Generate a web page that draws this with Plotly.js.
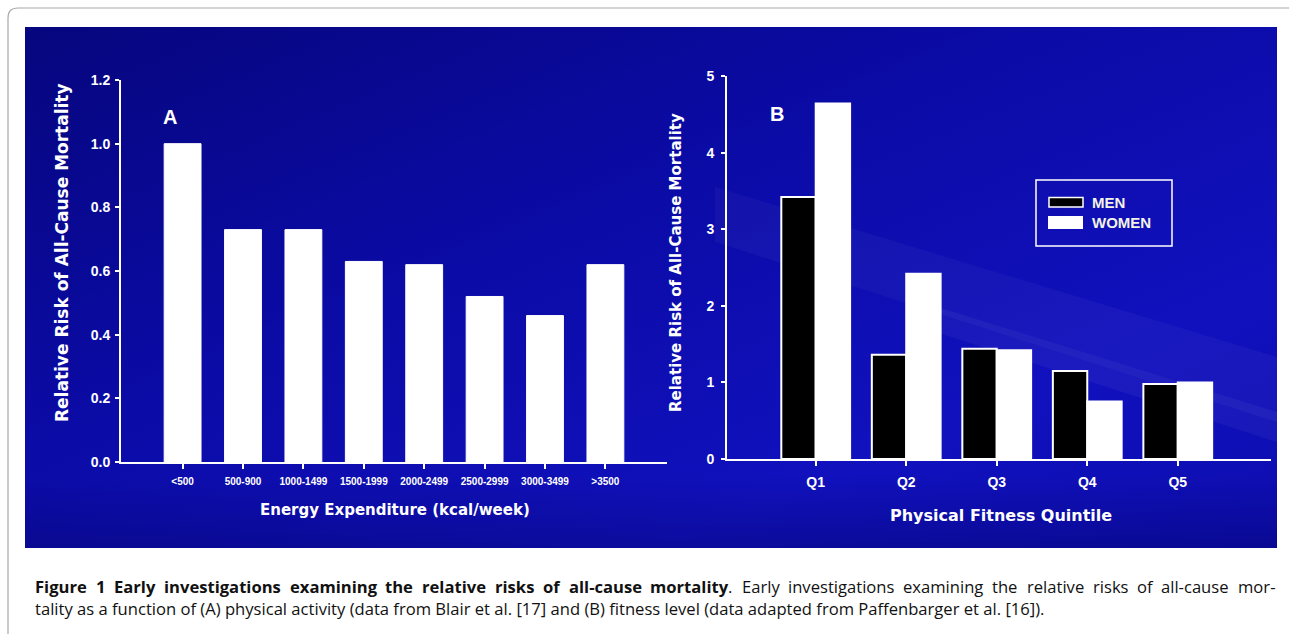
<!DOCTYPE html>
<html>
<head>
<meta charset="utf-8">
<script src="https://cdn.plot.ly/plotly-3.0.1.min.js"></script>
<style>html,body{margin:0;padding:0;background:#fff;}#chart{width:1289px;height:634px;}</style>
</head>
<body>
<div id="chart"></div>
<script>
// Panel A data
const energyCategories = ["<500", "500-900", "1000-1499", "1500-1999", "2000-2499", "2500-2999", "3000-3499", ">3500"];
const energyRisk = [1.0, 0.73, 0.73, 0.63, 0.62, 0.52, 0.46, 0.62];
// Panel B data
const quintiles = ["Q1", "Q2", "Q3", "Q4", "Q5"];
const menRisk = [3.42, 1.36, 1.44, 1.15, 0.98];
const womenRisk = [4.64, 2.42, 1.42, 0.75, 1.0];
const yTicksA = [0, 0.2, 0.4, 0.6, 0.8, 1.0, 1.2];
const yTicksB = [0, 1, 2, 3, 4, 5];
// Caption
const captionBold = "Figure 1 Early investigations examining the relative risks of all-cause mortality";
const captionRest1 = ". Early investigations examining the relative risks of all-cause mor-";
const captionLine2 = "tality as a function of (A) physical activity (data from Blair et al. [17] and (B) fitness level (data adapted from Paffenbarger et al. [16]).";

const W = 1289, H = 634;
const px = v => v / W, py = v => 1 - v / H;

const bgSvg = "<svg xmlns='http://www.w3.org/2000/svg' width='1252' height='521' viewBox='0 0 1252 521' preserveAspectRatio='none'>" +
  "<defs><linearGradient id='g' x1='0' y1='0' x2='1' y2='1'>" +
  "<stop offset='0' stop-color='#06067e'/><stop offset='0.4' stop-color='#0b0ba6'/><stop offset='0.75' stop-color='#1111be'/><stop offset='1' stop-color='#0d0db0'/></linearGradient>" +
  "<linearGradient id='b' x1='0' y1='0' x2='0' y2='1'><stop offset='0.86' stop-color='#000050' stop-opacity='0'/><stop offset='1' stop-color='#000050' stop-opacity='0.3'/></linearGradient></defs>" +
  "<rect width='1252' height='521' fill='url(#g)'/>" +
  "<polygon points='690,160 1252,330 1252,395 690,215' fill='#ffffff' fill-opacity='0.035'/>" +
  "<polygon points='880,270 1252,385 1252,415 880,295' fill='#ffffff' fill-opacity='0.045'/>" +
  "<rect width='1252' height='521' fill='url(#b)'/>" +
  "</svg>";
const bgSrc = "data:image/svg+xml;charset=utf-8," + encodeURIComponent(bgSvg);

const boldFont = "Liberation Sans, Arial, sans-serif";
const wideFont = "DejaVu Sans, sans-serif";
const capFont = "Open Sans";
const white = "#ffffff";

const traces = [
  {
    type: "bar", name: "Energy expenditure", x: energyCategories, y: energyRisk,
    xaxis: "x", yaxis: "y",
    marker: {color: "#ffffff", line: {color: "#ffffff", width: 1}},
    width: 0.61, showlegend: false, hoverinfo: "x+y"
  },
  {
    type: "bar", name: "MEN", x: quintiles, y: menRisk,
    xaxis: "x2", yaxis: "y2", offsetgroup: "m",
    marker: {color: "#000000", line: {color: "#ffffff", width: 2}},
    showlegend: false
  },
  {
    type: "bar", name: "WOMEN", x: quintiles, y: womenRisk,
    xaxis: "x2", yaxis: "y2", offsetgroup: "w",
    marker: {color: "#ffffff", line: {color: "#ffffff", width: 2}},
    showlegend: false
  }
];

const axisCommon = {
  showline: true, linecolor: white, linewidth: 2,
  ticks: "outside", tickcolor: white, tickwidth: 2, ticklen: 5,
  showgrid: false, zeroline: false, fixedrange: true
};

function ann(text, x, y, font, extra) {
  return Object.assign({text: text, xref: "paper", yref: "paper", x: px(x), y: py(y),
    xanchor: "center", yanchor: "middle", showarrow: false, font: font,
    borderpad: 0, borderwidth: 0}, extra || {});
}

// ---- caption layout (justified first line, measured with canvas) ----
const ctx = document.createElement("canvas").getContext("2d");
function measure(text, size, bold) {
  ctx.font = (bold ? "bold " : "") + size + "px '" + capFont + "'";
  return ctx.measureText(text).width;
}
const capLeft = 35, capRight = 1275, line2Right = 1044;
const capSize = Math.round(16 * (line2Right - capLeft) / measure(captionLine2, 16, false) * 10) / 10;
const capAnns = [];
(function () {
  const boldWords = captionBold.split(" ");
  const restWords = captionRest1.slice(2).split(" ");
  const tokens = [];
  boldWords.forEach((w, i) => {
    if (i === boldWords.length - 1) {
      tokens.push({text: "<b>" + w + "</b>.", w: measure(w, capSize, true) + measure(".", capSize, false)});
    } else {
      tokens.push({text: "<b>" + w + "</b>", w: measure(w, capSize, true)});
    }
  });
  restWords.forEach(w => tokens.push({text: w, w: measure(w, capSize, false)}));
  const total = tokens.reduce((s, t) => s + t.w, 0);
  const gap = (capRight - capLeft - total) / (tokens.length - 1);
  let x = capLeft;
  tokens.forEach(t => {
    capAnns.push(ann(t.text, x, 586, {family: capFont, size: capSize, color: "#111111"}, {xanchor: "left"}));
    x += t.w + gap;
  });
  capAnns.push(ann(captionLine2, capLeft, 608, {family: capFont, size: capSize, color: "#111111"}, {xanchor: "left"}));
})();

const layout = {
  width: W, height: H,
  margin: {l: 0, r: 0, t: 0, b: 0},
  paper_bgcolor: "#ffffff", plot_bgcolor: "rgba(0,0,0,0)",
  barmode: "group", bargap: 0.24, bargroupgap: 0.0,
  showlegend: false,
  images: [{
    source: bgSrc, xref: "paper", yref: "paper",
    x: px(25), y: py(27), sizex: 1252 / W, sizey: 521 / H,
    sizing: "stretch", xanchor: "left", yanchor: "top", layer: "below"
  }],
  xaxis: Object.assign({}, axisCommon, {
    domain: [px(121), px(667)], anchor: "y", type: "category",
    range: [-1.02, 8.02],
    tickfont: {family: boldFont, size: 10, color: white, weight: "bold"},
    ticklabelstandoff: 4
  }),
  yaxis: Object.assign({}, axisCommon, {
    domain: [py(462), py(80)], anchor: "x",
    range: [0, 1.2], tickvals: yTicksA, tickformat: ".1f",
    tickfont: {family: boldFont, size: 14, color: white, weight: "bold"},
    ticklen: 4, ticklabelstandoff: 2
  }),
  xaxis2: Object.assign({}, axisCommon, {
    domain: [px(727), px(1271)], anchor: "y2", type: "category",
    range: [-0.98, 5.03],
    tickfont: {family: boldFont, size: 14, color: white, weight: "bold"},
    ticklabelstandoff: 4
  }),
  yaxis2: Object.assign({}, axisCommon, {
    domain: [py(459), py(76)], anchor: "x2",
    range: [0, 5], tickvals: yTicksB,
    tickfont: {family: boldFont, size: 14, color: white, weight: "bold"},
    ticklen: 4, ticklabelstandoff: 4
  }),
  shapes: [
    // outer frame
    {type: "path", xref: "paper", yref: "paper",
     path: `M ${px(8)} ${py(640)} L ${px(8)} ${py(18)} Q ${px(8)} ${py(8)} ${px(18)} ${py(8)} L ${px(1292)} ${py(8)}`,
     line: {color: "#a8a8a8", width: 1.2}},
    // legend box
    {type: "rect", xref: "paper", yref: "paper", x0: px(1036), x1: px(1172), y0: py(180), y1: py(246),
     line: {color: white, width: 1.5}, fillcolor: "rgba(0,0,0,0)"},
    {type: "rect", xref: "paper", yref: "paper", x0: px(1049), x1: px(1083), y0: py(197.5), y1: py(207),
     line: {color: white, width: 1.5}, fillcolor: "#000000"},
    {type: "rect", xref: "paper", yref: "paper", x0: px(1048), x1: px(1083), y0: py(216), y1: py(229),
     line: {color: white, width: 0}, fillcolor: "#ffffff"}
  ],
  annotations: [
    ann("A", 170, 117, {family: boldFont, size: 20, color: white, weight: "bold"}),
    ann("B", 777, 114, {family: boldFont, size: 20, color: white, weight: "bold"}),
    ann("MEN", 1092, 202, {family: boldFont, size: 15, color: "#f2f2e6", weight: "bold"}, {xanchor: "left"}),
    ann("WOMEN", 1092, 222.5, {family: boldFont, size: 15, color: "#f2f2e6", weight: "bold"}, {xanchor: "left"}),
    // axis titles
    ann("Energy Expenditure (kcal/week)", 395, 510, {family: wideFont, size: 15, color: white, weight: "bold"}),
    ann("Relative Risk of All-Cause Mortality", 62, 253, {family: wideFont, size: 17, color: white, weight: "bold"}, {textangle: -90}),
    ann("Physical Fitness Quintile", 1001, 515, {family: wideFont, size: 16, color: white, weight: "bold"}),
    ann("Relative Risk of All-Cause Mortality", 676, 263, {family: wideFont, size: 15, color: white, weight: "bold"}, {textangle: -90})
  ].concat(capAnns)
};

Plotly.newPlot("chart", traces, layout, {staticPlot: true, displayModeBar: false});
</script>
</body>
</html>
